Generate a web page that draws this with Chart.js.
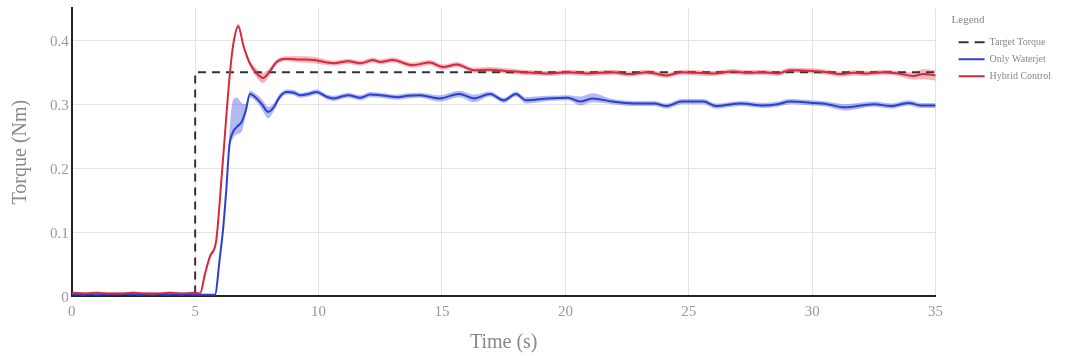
<!DOCTYPE html>
<html>
<head>
<meta charset="utf-8">
<script src="https://cdn.jsdelivr.net/npm/chart.js@4.4.1/dist/chart.umd.min.js"></script>
<style>
  body { margin: 0; background: #fff; }
  #wrap { width: 1067px; height: 356px; position: relative; }
</style>
</head>
<body>
<div id="wrap"><canvas id="torque"></canvas></div>
<script>
// values (time in s, torque in Nm)
const targetT = [0, 5, 5, 35];
const targetV = [0, 0, 0.35, 0.35];

const waterT = [0,1,2,3,4,5,5.5,5.8,6.0,6.14, 6.27,6.38,6.54,6.7,6.88,7.05,7.22,7.49,7.7,7.96,
  8.2,8.4,8.7,9.0,9.25,9.6,9.92,10.3,10.6,11.2, 11.7,12.1,12.5,13.2,13.6,14.1,14.9,15.7,16.3,16.95,
  17.5,18.0,18.4,19.3,20.1,20.6,21.1,21.9,22.8,23.6, 24.1,24.7,25.6,26.1,27.1,28,28.6,29.1,30,30.6,
  31.3,32.5,33.2,33.9,34.4,34.9,35];
const waterV = [0.002,0.002,0.003,0.002,0.002,0.002,0.002,0.002,0.06,0.108, 0.171,0.233,0.257,0.265,0.272,0.29,0.316,0.309,0.3,0.288,
  0.296,0.31,0.319,0.318,0.314,0.316,0.319,0.312,0.309,0.314, 0.31,0.315,0.314,0.311,0.313,0.314,0.309,0.316,0.309,0.316,
  0.306,0.316,0.306,0.309,0.31,0.304,0.309,0.304,0.301,0.301, 0.297,0.304,0.304,0.297,0.301,0.298,0.3,0.304,0.302,0.3,
  0.295,0.3,0.297,0.302,0.298,0.298,0.298];
// spread of the shaded band above / below the mean line
const waterUp = [0.001,0.001,0.001,0.001,0.001,0.001,0.001,0.001,0.002,0.003, 0.004,0.02,0.05,0.045,0.03,0.01,0.005,0.006,0.008,0.008,
  0.006,0.005,0.004,0.004,0.004,0.004,0.004,0.004,0.004,0.004, 0.004,0.004,0.004,0.004,0.004,0.004,0.005,0.005,0.006,0.004,
  0.004,0.004,0.005,0.004,0.004,0.008,0.008,0.004,0.004,0.004, 0.004,0.004,0.004,0.004,0.004,0.004,0.004,0.004,0.004,0.004,
  0.005,0.004,0.004,0.004,0.004,0.004,0.004];
const waterDown = [0.001,0.001,0.001,0.001,0.001,0.001,0.001,0.001,0.002,0.003, 0.004,0.006,0.01,0.012,0.015,0.008,0.005,0.006,0.008,0.01,
  0.006,0.005,0.004,0.004,0.004,0.004,0.004,0.004,0.004,0.004, 0.004,0.004,0.004,0.004,0.004,0.004,0.005,0.005,0.006,0.004,
  0.004,0.004,0.005,0.004,0.004,0.006,0.006,0.004,0.004,0.004, 0.004,0.004,0.004,0.004,0.004,0.004,0.004,0.004,0.004,0.004,
  0.005,0.004,0.004,0.004,0.004,0.004,0.004];

const hybridT = [0,0.5,1,1.5,2,2.5,3,3.5,4,4.5, 5,5.2,5.4,5.6,5.85,6.1,6.4,6.55,6.75,6.95,
  7.2,7.5,7.75,8.0,8.3,8.7,9.2,9.8,10.6,11.2, 11.7,12.2,12.5,13.0,13.8,14.5,15.05,15.6,16.3,16.95,
  17.6,18.3,19.4,20.1,20.9,21.9,22.6,23.3,24.1,24.7, 25.3,26,26.8,27.4,28,28.6,29.1,30,30.6,31.1,
  31.7,32.2,32.9,33.5,34.1,34.5,35];
const hybridV = [0.005,0.004,0.005,0.004,0.004,0.005,0.004,0.004,0.005,0.004, 0.005,0.004,0.035,0.062,0.086,0.2,0.345,0.395,0.422,0.392,
  0.365,0.348,0.341,0.35,0.366,0.371,0.37,0.369,0.364,0.367, 0.364,0.369,0.366,0.369,0.361,0.365,0.358,0.362,0.353,0.354,
  0.352,0.35,0.348,0.35,0.348,0.35,0.347,0.35,0.345,0.35, 0.349,0.348,0.351,0.349,0.35,0.348,0.353,0.352,0.35,0.347,
  0.349,0.348,0.35,0.348,0.344,0.347,0.345];
const hybridSpread = [0.002,0.002,0.002,0.002,0.002,0.002,0.002,0.002,0.002,0.002, 0.002,0.002,0.003,0.003,0.003,0.003,0.003,0.004,0.004,0.004,
  0.005,0.007,0.008,0.006,0.004,0.004,0.005,0.005,0.004,0.004, 0.004,0.004,0.004,0.004,0.004,0.004,0.004,0.004,0.004,0.004,
  0.004,0.004,0.004,0.004,0.004,0.004,0.004,0.004,0.004,0.004, 0.004,0.004,0.004,0.004,0.004,0.004,0.004,0.004,0.004,0.004,
  0.004,0.004,0.004,0.004,0.006,0.008,0.008];

const yTicks = [0, 0.1, 0.2, 0.3, 0.4];

const pts = (t, v, off, sign) => t.map((x, i) => ({ x: x, y: v[i] + (off ? sign * off[i] : 0) }));

const serif = "'Liberation Serif', 'Times New Roman', serif";
const blue = '#2b3fd4';
const red = '#d62a3c';

const lineDs = (label, data, color, order) => ({
  label, data, borderColor: color, backgroundColor: color, borderWidth: 2,
  pointRadius: 0, cubicInterpolationMode: 'monotone', fill: false, order
});
const bandDs = (data, color, fill) => ({
  label: 'band', data, borderWidth: 0, borderColor: 'transparent', backgroundColor: color,
  pointRadius: 0, cubicInterpolationMode: 'monotone', fill, order: 5
});

// legend sits right of the plot; make a little more room and nudge it over
const legendExtra = 16;
const legendRoom = {
  id: 'legendRoom',
  afterInit(chart) {
    const lg = chart.legend;
    if (!lg || !lg.fit) return;
    const fit = lg.fit.bind(lg);
    lg.fit = () => { fit(); lg.width += legendExtra; };
  },
  afterLayout(chart) {
    if (!chart.legend) return;
    chart.legend.left += legendExtra;
    chart.legend.right += legendExtra;
  }
};

new Chart(document.getElementById('torque'), {
  type: 'line',
  data: {
    datasets: [
      Object.assign(lineDs('Target Torque', pts(targetT, targetV), '#333', 1), { borderDash: [8, 6], cubicInterpolationMode: 'default', tension: 0 }),
      lineDs('Only Waterjet', pts(waterT, waterV), blue, 2),
      lineDs('Hybrid Control', pts(hybridT, hybridV), red, 0),
      bandDs(pts(waterT, waterV, waterDown, -1), 'rgba(60,80,210,0.4)', false),
      bandDs(pts(waterT, waterV, waterUp, 1), 'rgba(60,80,210,0.4)', '-1'),
      bandDs(pts(hybridT, hybridV, hybridSpread, -1), 'rgba(214,50,70,0.35)', false),
      bandDs(pts(hybridT, hybridV, hybridSpread, 1), 'rgba(214,50,70,0.35)', '-1')
    ]
  },
  plugins: [legendRoom],
  options: {
    responsive: true,
    maintainAspectRatio: false,
    animation: false,
    layout: { padding: { left: 6, right: 6, top: 1, bottom: 1 } },
    plugins: {
      tooltip: { enabled: false },
      legend: {
        position: 'right',
        align: 'start',
        title: { display: true, text: 'Legend', color: '#888', position: 'start', font: { family: serif, size: 11 }, padding: { top: 14, bottom: 2 } },
        labels: {
          color: '#888',
          font: { family: serif, size: 10 },
          usePointStyle: true,
          pointStyle: 'line',
          pointStyleWidth: 26,
          padding: 7,
          filter: item => item.datasetIndex < 3,
          sort: (a, b) => a.datasetIndex - b.datasetIndex,
          generateLabels: chart => Chart.defaults.plugins.legend.labels.generateLabels(chart).map(item => {
            const ds = chart.data.datasets[item.datasetIndex];
            item.lineDash = ds.borderDash ? [10, 6] : [];
            item.strokeStyle = ds.borderColor;
            item.lineWidth = 2;
            return item;
          })
        }
      }
    },
    scales: {
      x: {
        type: 'linear',
        min: 0, max: 35,
        ticks: { stepSize: 5, color: '#999', font: { family: serif, size: 15 }, padding: 7 },
        grid: { color: '#e4e4e4', drawTicks: false },
        border: { color: '#222', width: 2 },
        title: { display: true, text: 'Time (s)', color: '#888', font: { family: serif, size: 20 }, padding: { top: 3, bottom: 0 } }
      },
      y: {
        min: 0, max: 0.45,
        afterBuildTicks: axis => { axis.ticks = yTicks.map(v => ({ value: v })); },
        ticks: { color: '#999', font: { family: serif, size: 15, lineHeight: 0.7 }, padding: 3, labelOffset: 2 },
        grid: { color: '#e4e4e4', drawTicks: false },
        border: { color: '#222', width: 2 },
        title: { display: true, text: 'Torque (Nm)', color: '#888', font: { family: serif, size: 20 }, padding: { top: 3, bottom: 14 } }
      }
    }
  }
});
</script>
</body>
</html>
